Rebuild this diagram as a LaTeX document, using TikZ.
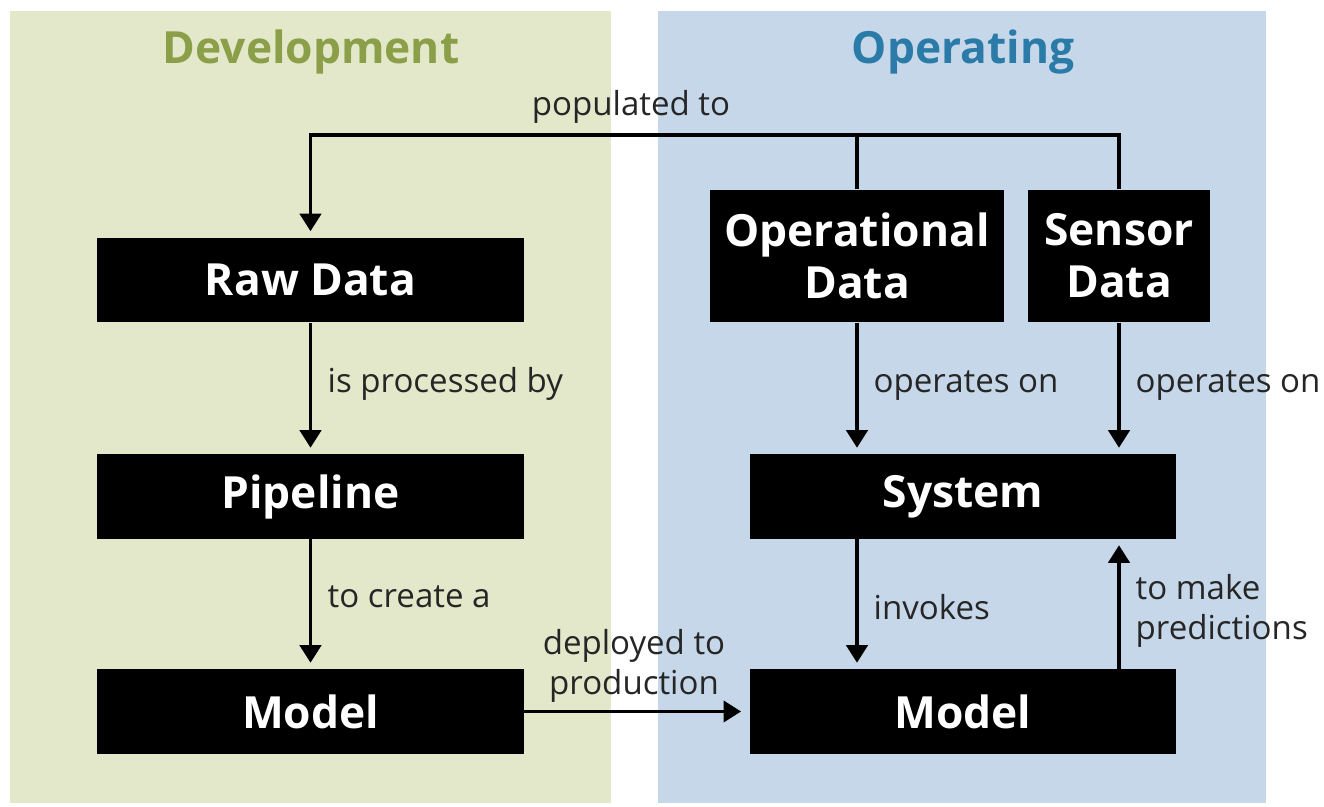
\documentclass[tikz,border=0pt]{standalone}
\usepackage{fontspec}
\setmainfont{Open Sans}
\usetikzlibrary{arrows.meta}

\definecolor{devbg}{HTML}{E3E8CA}
\definecolor{devtitle}{HTML}{8B9E48}
\definecolor{opbg}{HTML}{C6D7E9}
\definecolor{optitle}{HTML}{2B7BA8}

\tikzset{
    box/.style={fill=black, text=white, inner sep=0pt, align=center,
        font=\bfseries\fontsize{12.6}{14.8}\selectfont},
    widebox/.style={box, minimum width=4.26cm, minimum height=0.84cm},
    flow/.style={-{Triangle[width=6pt,length=5pt]}, line width=1.1pt, shorten >=1.7pt},
    lbl/.style={inner sep=0pt, align=left, text=black!85,
        font=\fontsize{9.4}{11.4}\selectfont},
    paneltitle/.style={inner sep=0pt, font=\bfseries\fontsize{12.6}{14}\selectfont}
}

\begin{document}
\begin{tikzpicture}[x=0.01cm, y=-0.01cm]
    \useasboundingbox (0,0) rectangle (1324,807);

    % Panels
    \fill[devbg] (10,11) rectangle (611,803);
    \fill[opbg] (658,11) rectangle (1266,803);
    \node[paneltitle, text=devtitle, anchor=base] (devtitle) at (311,64) {Development};
    \node[paneltitle, text=optitle, anchor=base] (optitle) at (963,64) {Operating};

    % Development boxes
    \node[widebox] (raw) at (310.5,280) {Raw Data};
    \node[widebox] (pipe) at (310.5,496.5) {Pipeline};
    \node[widebox] (devmodel) at (310.5,711.5) {Model};

    % Operating boxes
    \node[box, minimum width=2.93cm, minimum height=1.32cm] (opdata) at (857,256) {Operational\\Data};
    \node[box, minimum width=1.82cm, minimum height=1.32cm] (sensor) at (1119,256) {Sensor\\Data};
    \node[widebox] (system) at (963,496.5) {System};
    \node[widebox] (opmodel) at (963,711.5) {Model};

    % Populated to
    \coordinate (poptop) at (631,135);
    \draw[line width=1.1pt] (sensor.north) |- (poptop);
    \draw[flow] (opdata.north) |- (poptop -| raw.north) -- (raw.north);
    \node[lbl, anchor=base] (poplbl) at (631,116) {populated to};

    % Development flow
    \draw[flow] (raw.south) -- (pipe.north);
    \node[lbl, anchor=base west] (proclbl) at (327,393) {is processed by};
    \draw[flow] (pipe.south) -- (devmodel.north);
    \node[lbl, anchor=base west] (createlbl) at (327,608) {to create a};

    % Deployment
    \draw[flow, shorten >=2.3pt] (devmodel.east) -- (opmodel.west);
    \node[lbl, align=center, anchor=base] (deploylbl) at (634,695) {deployed to\\production};

    % Operating flow
    \draw[flow] (opdata.south) -- (opdata.south |- system.north);
    \node[lbl, anchor=base west] (oplbl) at (873,393) {operates on};
    \draw[flow] (sensor.south) -- (sensor.south |- system.north);
    \node[lbl, anchor=base west] (senslbl) at (1135,393) {operates on};
    \draw[flow] (system.south -| opdata.south) -- (opmodel.north -| opdata.south);
    \node[lbl, anchor=base west] (invlbl) at (873,620) {invokes};
    \draw[flow] (opmodel.north -| sensor.south) -- (system.south -| sensor.south);
    \node[lbl, anchor=base west] (predlbl) at (1135,640) {to make\\predictions};
\end{tikzpicture}
\end{document}
